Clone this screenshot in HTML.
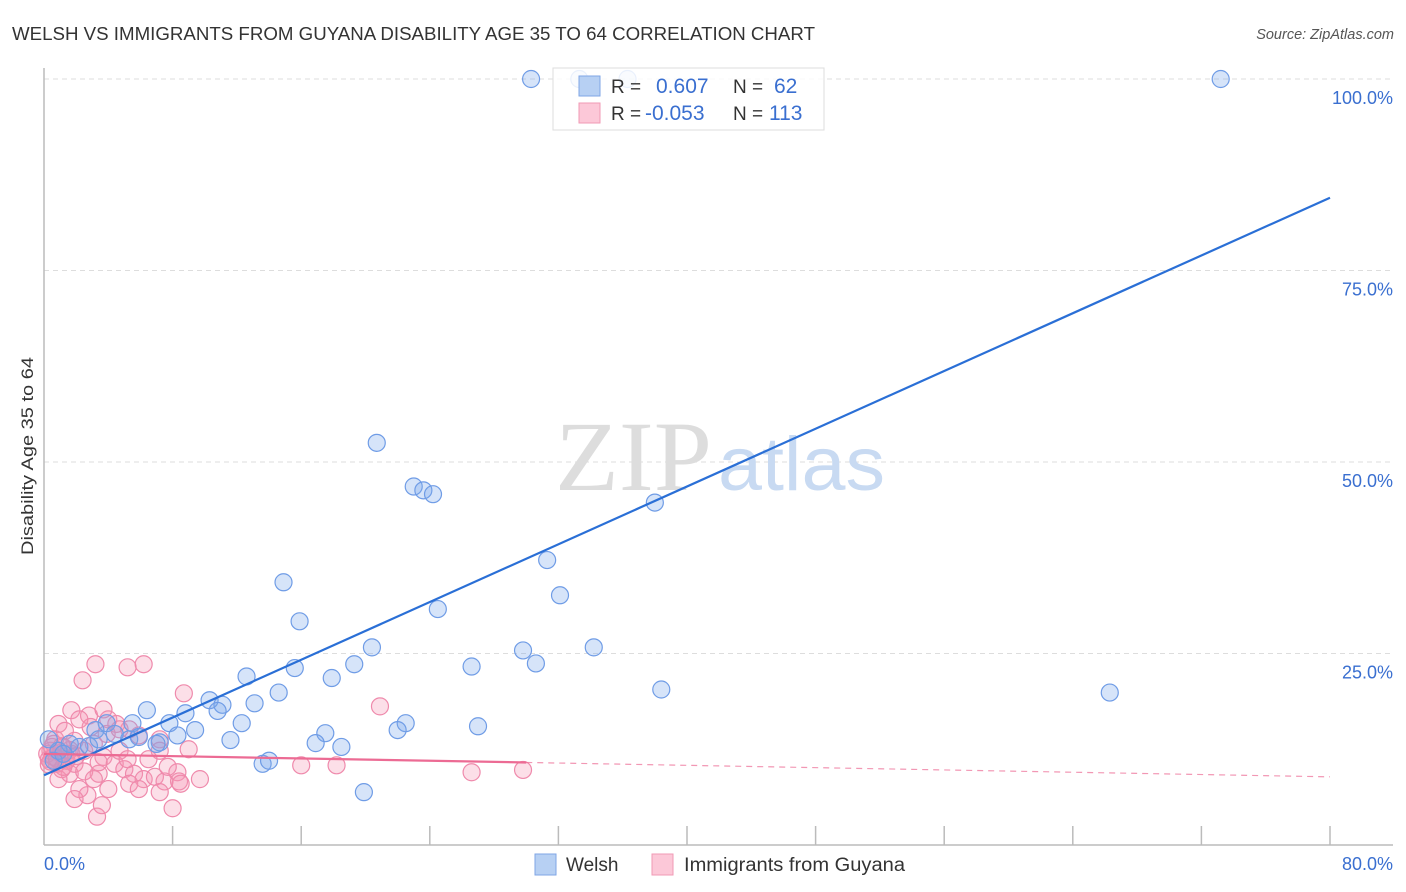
<!DOCTYPE html>
<html><head><meta charset="utf-8"><style>
body{margin:0;background:#fff;font-family:"Liberation Sans",sans-serif}
svg{display:block}
</style></head><body>
<svg id="chart" width="1406" height="892">
<text x="12" y="40" font-size="18" fill="#333" textLength="803" lengthAdjust="spacingAndGlyphs">WELSH VS IMMIGRANTS FROM GUYANA DISABILITY AGE 35 TO 64 CORRELATION CHART</text>
<text x="1394" y="39" font-size="14.5" font-style="italic" fill="#555" text-anchor="end">Source: ZipAtlas.com</text>
<g id="grid"></g>
<text x="712" y="490" font-size="100" font-family="Liberation Serif,serif" fill="#ddd" text-anchor="end" textLength="157" lengthAdjust="spacingAndGlyphs">ZIP</text>
<text x="718" y="490" font-size="76" fill="#c8daf2" textLength="167" lengthAdjust="spacingAndGlyphs">atlas</text>
<line x1="44" y1="68" x2="44" y2="845" stroke="#bbb" stroke-width="1.5"/>
<line x1="44" y1="845" x2="1393" y2="845" stroke="#bbb" stroke-width="1.5"/>
<g id="xticks"></g>
<g id="ylabels"></g>
<text x="44" y="870" font-size="18" fill="#3a6fd0">0.0%</text>
<text x="1393" y="870" font-size="18" fill="#3a6fd0" text-anchor="end">80.0%</text>
<text transform="translate(33,456) rotate(-90)" font-size="17" fill="#333" text-anchor="middle" textLength="198" lengthAdjust="spacingAndGlyphs">Disability Age 35 to 64</text>
<g id="pink"></g>
<g id="blue"></g>
<g id="lines"></g>
<g>
<rect x="553" y="68" width="271" height="62" fill="#fff" fill-opacity="0.85" stroke="#ddd"/>
<rect x="579" y="76" width="21" height="20" fill="#b7d0f3" stroke="#7fa6e6"/>
<rect x="579" y="103" width="21" height="20" fill="#fcc8d8" stroke="#f09ab5"/>
<text x="611" y="93" font-size="19" fill="#333">R =</text>
<text x="656" y="93" font-size="21" fill="#3a6fd0">0.607</text>
<text x="733" y="93" font-size="19" fill="#333">N =</text>
<text x="774" y="93" font-size="21" fill="#3a6fd0">62</text>
<text x="611" y="120" font-size="19" fill="#333">R =</text>
<text x="645" y="120" font-size="21" fill="#3a6fd0">-0.053</text>
<text x="733" y="120" font-size="19" fill="#333">N =</text>
<text x="769" y="120" font-size="21" fill="#3a6fd0">113</text>
</g>
<g>
<rect x="535" y="854" width="21" height="21" fill="#b7d0f3" stroke="#7fa6e6"/>
<text x="566" y="871" font-size="19" fill="#333">Welsh</text>
<rect x="652" y="854" width="21" height="21" fill="#fcc8d8" stroke="#f09ab5"/>
<text x="684" y="871" font-size="19" fill="#333" textLength="221" lengthAdjust="spacingAndGlyphs">Immigrants from Guyana</text>
</g>
</svg>
<script>
const yTicks=[25,50,75,100];
const yTickLabels=["25.0%","50.0%","75.0%","100.0%"];
const xTicks=[8,16,24,32,40,48,56,64,72,80];
const welshX=[30.3,33.3,36.3,73.2,20.7,23.0,23.6,24.2,38.0,31.3,32.1,14.9,24.5,15.9,20.4,34.2,29.8,19.3,26.6,30.6,15.6,12.6,17.9,38.4,66.3,14.6,10.3,13.1,6.4,11.1,8.8,10.8,7.8,12.3,9.4,22.5,27.0,22.0,17.5,5.5,7.2,8.3,11.6,16.9,18.5,5.3,7.0,5.9,13.6,14.0,19.9,3.9,3.2,2.2,0.9,0.3,1.6,0.6,1.2,4.4,2.8,3.4];
const welshY=[100,100,100,100,52.5,46.8,46.3,45.8,44.7,37.2,32.6,34.3,30.8,29.2,25.8,25.8,25.4,23.6,23.3,23.7,23.1,22.0,21.8,20.3,19.9,19.9,18.9,18.5,17.6,18.3,17.2,17.5,15.9,15.9,15.0,15.9,15.5,15.0,14.6,15.9,13.4,14.3,13.7,13.3,12.8,13.8,13.2,14.1,10.6,11.0,6.9,15.9,15.0,12.8,12.3,13.8,13.2,11.0,11.9,14.5,12.9,13.8];
const guyX=[3.2,5.2,6.2,2.4,8.7,20.9,16.0,18.2,26.6,29.8,8.0,3.3,3.6,0.9,1.7,2.8,4.0,4.5,5.3,5.9,7.2,0.7,1.2,1.9,2.5,3.1,3.7,4.4,5.0,5.6,6.2,6.9,7.5,8.3,8.4,7.7,6.5,5.3,4.0,3.4,2.7,2.2,1.6,1.1,0.3,0.4,0.8,1.3,1.9,2.5,3.1,4.7,3.9,2.9,2.2,1.3,0.6,0.2,1.9,5.9,7.2,8.5,5.2,7.2,9.0,3.7,4.7,0.9,9.7,3.4,1.7,0.3,0.6,1.0,1.4,0.5,0.8,1.2,1.6,2.0,0.4,1.1];
const guyY=[23.6,23.2,23.6,21.5,19.8,18.1,10.4,10.4,9.5,9.8,4.8,3.7,5.2,15.8,17.6,16.9,16.4,15.8,15.1,14.3,13.8,13.8,12.8,13.6,12.3,13.2,11.5,10.6,9.9,9.3,8.6,8.9,8.3,9.5,8.3,10.2,11.2,8.0,7.3,9.3,6.5,7.3,9.3,9.9,11.2,12.3,10.6,11.2,10.6,9.6,8.6,12.3,14.5,15.4,16.4,14.9,13.2,11.9,6.0,7.3,6.9,8.0,11.2,12.3,12.5,17.7,15.1,8.6,8.6,10.8,11.9,10.5,11.5,12.0,11.0,12.8,11.3,10.2,12.4,11.6,10.9,12.9];
const welshTrend=[9.1,84.5];
const guyTrend=[11.9,8.9];
const X=v=>44+v/80*1286, Y=v=>845-v*7.66;
const NS="http://www.w3.org/2000/svg";
function mk(t,a,p){const e=document.createElementNS(NS,t);for(const k in a)e.setAttribute(k,a[k]);p.appendChild(e);return e;}
const grid=document.getElementById('grid'),yl=document.getElementById('ylabels'),xt=document.getElementById('xticks');
yTicks.forEach((v,i)=>{
 const l=mk('line',{x1:44,x2:1393,y1:Y(v),y2:Y(v),stroke:'#ddd','stroke-dasharray':'5,4'},grid);
 
 
 const t=mk('text',{x:1393,y:Y(v)+25,'font-size':18,fill:'#3a6fd0','text-anchor':'end'},yl);
 t.textContent=yTickLabels[i];
 
 
});
xTicks.forEach(v=>{
 const l=mk('line',{x1:X(v),x2:X(v),y1:826,y2:845,stroke:'#bbb','stroke-width':1.5},xt);
 
 
});
const pg=document.getElementById('pink'),bg=document.getElementById('blue');
guyX.forEach((x,i)=>{
 const c=mk('circle',{cx:X(x),cy:Y(guyY[i]),r:8.5,fill:'rgba(245,150,180,0.3)',stroke:'#ef8aac','stroke-width':1.2},pg);
 
 
});
welshX.forEach((x,i)=>{
 const c=mk('circle',{cx:X(x),cy:Y(welshY[i]),r:8.5,fill:'rgba(120,165,235,0.3)',stroke:'#6f9ce6','stroke-width':1.2},bg);
 
 
});
const lg=document.getElementById('lines');
const bl=mk('line',{x1:X(0),y1:Y(welshTrend[0]),x2:X(80),y2:Y(welshTrend[1]),stroke:'#2a6fd6','stroke-width':2.2},lg);


const gy=x=>guyTrend[0]+(guyTrend[1]-guyTrend[0])*x/80;
const pl=mk('line',{x1:X(0),y1:Y(gy(0)),x2:X(30),y2:Y(gy(30)),stroke:'#ec6b94','stroke-width':2.2},lg);


const pd=mk('line',{x1:X(30),y1:Y(gy(30)),x2:X(80),y2:Y(gy(80)),stroke:'#ec6b94','stroke-width':1.2,'stroke-dasharray':'6,5','stroke-opacity':0.7},lg);


</script>
</body></html>
